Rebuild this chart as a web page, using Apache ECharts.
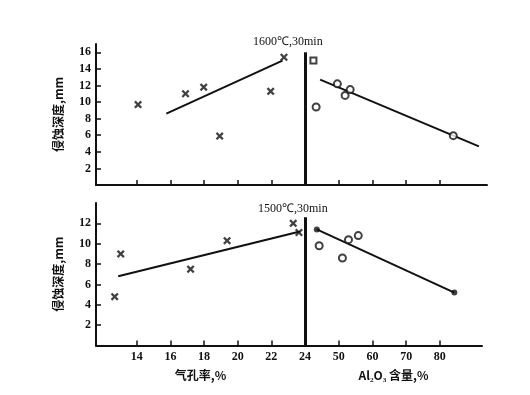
<!DOCTYPE html>
<html><head><meta charset="utf-8">
<script src="https://cdn.jsdelivr.net/npm/echarts@6/dist/echarts.min.js"></script>
<style>html,body{margin:0;padding:0;background:#fff}#c{width:530px;height:395px}</style>
</head><body><div id="c"></div>
<script>
// ---- data ----
const porosityTicks = [14, 16, 18, 20, 22, 24];
const aluminaTicks = [50, 60, 70, 80];
const upperYTicks = [2, 4, 6, 8, 10, 12, 14, 16];
const lowerYTicks = [2, 4, 6, 8, 10, 12];

// 1600℃, 30min
const upPorX = [14.08, 16.9, 17.98, 18.93, 21.96, 22.75];
const upPorY = [9.7, 11.0, 11.8, 5.9, 11.3, 15.4];
const upPorFitX = [15.76, 22.66];
const upPorFitY = [8.6, 15.0];
const upAlSqX = [42.5];
const upAlSqY = [15.0];
const upAlX = [43.3, 49.6, 51.9, 53.4, 84.0];
const upAlY = [9.4, 12.2, 10.8, 11.5, 5.95];
const upAlFitX = [44.5, 91.6];
const upAlFitY = [12.7, 4.65];

// 1500℃, 30min
const loPorX = [12.69, 13.05, 17.2, 19.37, 23.3, 23.64];
const loPorY = [4.8, 9.0, 7.5, 10.3, 12.0, 11.1];
const loPorFitX = [12.9, 23.7];
const loPorFitY = [6.8, 11.2];
const loAlX = [44.2, 51.1, 52.9, 55.8];
const loAlY = [9.8, 8.6, 10.4, 10.8];
const loAlEndX = [43.5, 84.3];
const loAlEndY = [11.4, 5.2];
const loAlFitX = [43.5, 84.3];
const loAlFitY = [11.4, 5.2];

const zip = (xs, ys) => xs.map((x, i) => [x, ys[i]]);

const CROSS = 'path://M0,2L2,0L5,3L8,0L10,2L7,5L10,8L8,10L5,7L2,10L0,8L3,5Z';
const serif = 'Liberation Serif';
const cjk = 'Noto Sans CJK SC';
const black = '#111';

function xAx(grid, min, max, ticks, showLabels, name) {
  return {
    type: 'value', gridIndex: grid, min: min, max: max,
    splitLine: {show: false},
    axisLine: {show: true, lineStyle: {color: black, width: 2}},
    axisTick: {show: true, inside: true, length: 5, customValues: ticks, lineStyle: {color: black, width: 1.5}},
    axisLabel: {show: showLabels, customValues: ticks, color: black, fontFamily: serif, fontSize: 12, fontWeight: 'bold', margin: 5},
    name: name || '', nameLocation: 'middle', nameGap: 24,
    nameTextStyle: {color: black, fontFamily: cjk, fontSize: 12, fontWeight: 'bold'}
  };
}
function yAx(grid, max, ticks, show) {
  return {
    type: 'value', gridIndex: grid, min: 0, max: max, show: show,
    splitLine: {show: false},
    axisLine: {show: true, lineStyle: {color: black, width: 2}},
    axisTick: {show: true, inside: true, length: 5, customValues: ticks, lineStyle: {color: black, width: 1.5}},
    axisLabel: {customValues: ticks, color: black, fontFamily: serif, fontSize: 12, fontWeight: 'bold', margin: 5},
    name: show ? '侵蚀深度,mm' : '', nameLocation: 'middle', nameRotate: 90, nameGap: 32,
    nameTextStyle: {color: black, fontFamily: cjk, fontSize: 12, fontWeight: 'bold'}
  };
}
function scat(ax, data, symbol, size, filled) {
  return {
    type: 'scatter', xAxisIndex: ax, yAxisIndex: ax, data: data, symbol: symbol, symbolSize: size,
    itemStyle: filled ? {color: black} : {color: black, borderColor: black, borderWidth: 1.6},
    clip: false, silent: true, z: 3
  };
}
function fit(ax, data) {
  return {
    type: 'line', xAxisIndex: ax, yAxisIndex: ax, data: data, showSymbol: false,
    lineStyle: {color: black, width: 2}, silent: true, clip: false
  };
}
function divider(ax, top) {
  return {
    type: 'scatter', xAxisIndex: ax, yAxisIndex: ax, data: [], silent: true, clip: false,
    markLine: {
      silent: true, symbol: 'none', animation: false, label: {show: false},
      lineStyle: {color: black, width: 3, type: 'solid'},
      data: [[{coord: [40, 0]}, {coord: [40, top]}]]
    }
  };
}

const chart = echarts.init(document.getElementById('c'), null, {renderer: 'canvas'});
chart.setOption({
  animation: false,
  backgroundColor: '#fff',
  title: [
    {text: '1600℃,30min', left: 248, top: 31, textStyle: {color: black, fontFamily: serif, fontSize: 12, fontWeight: 'normal'}},
    {text: '1500℃,30min', left: 253, top: 198, textStyle: {color: black, fontFamily: serif, fontSize: 12, fontWeight: 'normal'}}
  ],
  grid: [
    {left: 96, top: 44, width: 209, height: 141},
    {left: 305, top: 44, width: 182, height: 141},
    {left: 96, top: 203, width: 209, height: 142.5},
    {left: 305, top: 203, width: 177, height: 142.5}
  ],
  xAxis: [
    xAx(0, 11.58, 24, porosityTicks, false),
    xAx(1, 40, 94, aluminaTicks, false),
    xAx(2, 11.58, 24, porosityTicks, true, '气孔率,%'),
    xAx(3, 40, 92.5, aluminaTicks, true, 'Al₂O₃ 含量,%')
  ],
  yAxis: [
    yAx(0, 17, upperYTicks, true),
    yAx(1, 17, upperYTicks, false),
    yAx(2, 14, lowerYTicks, true),
    yAx(3, 14, lowerYTicks, false)
  ],
  series: [
    scat(0, zip(upPorX, upPorY), CROSS, 8, true),
    fit(0, zip(upPorFitX, upPorFitY)),
    scat(1, zip(upAlSqX, upAlSqY), 'emptyRect', 6, false),
    scat(1, zip(upAlX, upAlY), 'emptyCircle', 7, false),
    fit(1, zip(upAlFitX, upAlFitY)),
    divider(1, 16),
    scat(2, zip(loPorX, loPorY), CROSS, 8, true),
    fit(2, zip(loPorFitX, loPorFitY)),
    scat(3, zip(loAlX, loAlY), 'emptyCircle', 7, false),
    scat(3, zip(loAlEndX, loAlEndY), 'circle', 6, true),
    fit(3, zip(loAlFitX, loAlFitY)),
    divider(3, 12.6)
  ]
});
</script>
</body></html>
